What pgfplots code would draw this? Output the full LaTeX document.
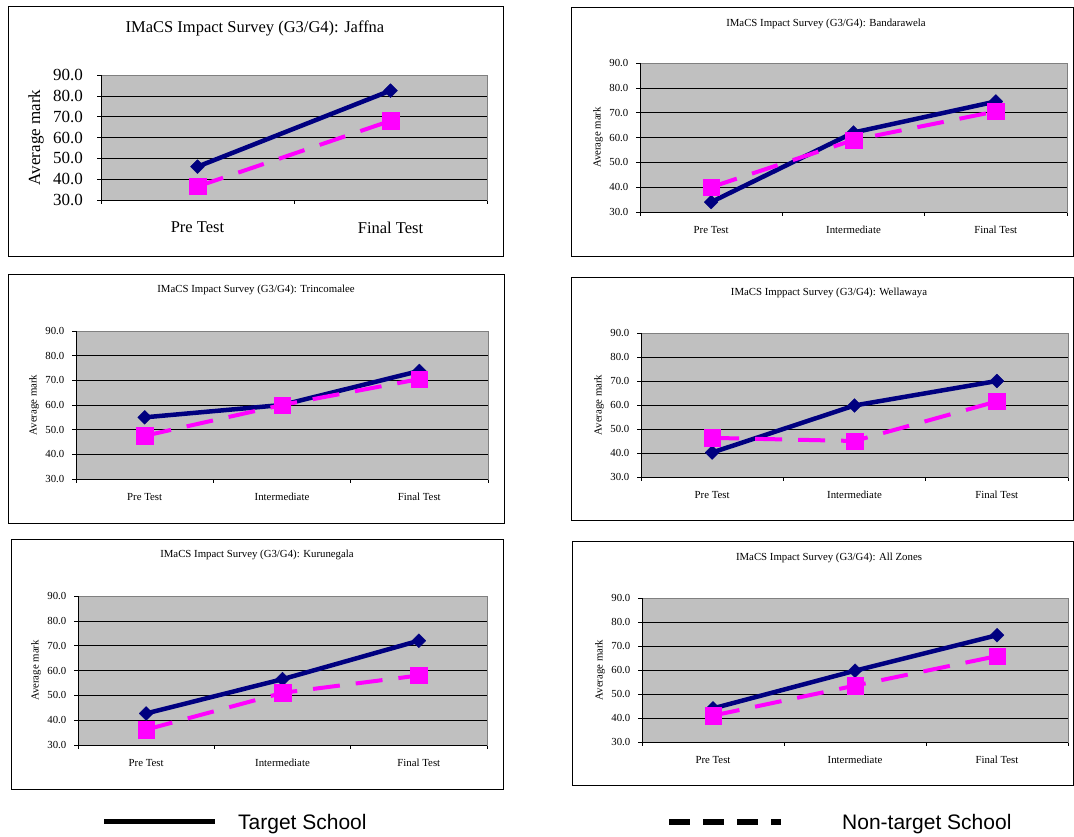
\documentclass[border=0pt]{standalone}
\usepackage{fontspec}
\setmainfont{Liberation Serif}
\newfontfamily\legendfont{Liberation Sans}
\usepackage{pgfplots}
\pgfplotsset{compat=1.18}

\definecolor{targetnavy}{HTML}{000080}
\definecolor{nontargetpink}{HTML}{FF00FF}
\definecolor{plotgray}{HTML}{C0C0C0}
\definecolor{bordergray}{HTML}{808080}

\newcommand\smallfont{\fontsize{10.8bp}{13bp}\selectfont}
\newcommand\bigfont{\fontsize{16.5bp}{19bp}\selectfont}

\pgfplotsset{
  zone/.style={
    scale only axis,
    anchor=south west,
    clip=false,
    ymin=30, ymax=90,
    ytick={30,40,...,90},
    xmin=0.5, xmax=3.5,
    xtick={0.5,1.5,2.5,3.5},
    xticklabels={{},{},{},{}},
    extra x ticks={1,2,3},
    extra x tick labels={Pre Test,Intermediate,Final Test},
    extra x tick style={major tick length=0pt},
    tick align=outside,
    tick pos=left,
    major tick length=4bp,
    tick style={black, line width=0.6bp},
    extra y ticks={40,50,60,70,80},
    extra y tick labels={},
    extra y tick style={grid=major, major tick length=0pt},
    grid style={black, line width=0.6bp},
    axis background/.style={fill=plotgray},
    axis line style={bordergray, line width=0.8bp},
    /pgf/number format/assume math mode=true,
    yticklabel style={/pgf/number format/fixed, /pgf/number format/fixed zerofill,
      /pgf/number format/precision=1, anchor=east, inner sep=0pt},
    xticklabel style={anchor=north, inner sep=0pt},
    ylabel={Average mark},
    after end axis/.code={
      \draw[black, line width=0.8bp] (rel axis cs:0,1) -- (rel axis cs:0,0) -- (rel axis cs:1,0);
    },
  },
  small zone/.style={
    zone,
    tick label style={font=\smallfont},
    yticklabel style={xshift=-7.5bp},
    xticklabel style={yshift=-14bp},
    every axis y label/.style={at={(axis description cs:0,0.5)}, xshift=-42bp,
      rotate=90, anchor=center, font=\smallfont},
  },
  target/.style={targetnavy, line width=4.5bp, line join=round,
    mark=square*, mark size=4.9bp,
    mark options={rotate=45, solid, fill=targetnavy, draw=targetnavy, line width=0.4bp}},
  nontarget/.style={nontargetpink, line width=4bp, dash pattern=on 27bp off 16bp,
    mark=square*, mark size=8.2bp,
    mark options={solid, fill=nontargetpink, draw=nontargetpink, line width=0.4bp}},
}

\begin{document}
\begin{tikzpicture}
\useasboundingbox (0,0) rectangle (1074bp,837bp);

% chart frames
\draw[black, line width=0.8bp] (8bp,831bp) rectangle (503bp,581bp);
\draw[black, line width=0.8bp] (571bp,830bp) rectangle (1073bp,581bp);
\draw[black, line width=0.8bp] (8bp,563bp) rectangle (504bp,314bp);
\draw[black, line width=0.8bp] (571bp,560bp) rectangle (1073bp,317bp);
\draw[black, line width=0.8bp] (11bp,298bp) rectangle (503bp,48bp);
\draw[black, line width=0.8bp] (572bp,296bp) rectangle (1073bp,52bp);

% Jaffna (two tests only)
\begin{axis}[zone, at={(101bp,637bp)}, width=386bp, height=125bp,
  xmax=2.5, xtick={0.5,1.5,2.5}, xticklabels={{},{},{}},
  extra x ticks={1,2}, extra x tick labels={Pre Test,Final Test},
  tick label style={font=\bigfont},
  yticklabel style={font=\fontsize{17bp}{20bp}\selectfont, xshift=-14bp},
  xticklabel style={yshift=-21.5bp},
  every axis y label/.style={at={(axis description cs:0,0.5)}, xshift=-65bp,
    rotate=90, anchor=center, font=\fontsize{17bp}{20bp}\selectfont}]
\addplot[target] coordinates {(1,46.0) (2,82.5)};
\addplot[nontarget] coordinates {(1,36.5) (2,68.0)};
\end{axis}

% Bandarawela
\begin{axis}[small zone, at={(640bp,625bp)}, width=427bp, height=149bp]
\addplot[target] coordinates {(1,34.0) (2,62.0) (3,74.5)};
\addplot[nontarget] coordinates {(1,40.0) (2,59.0) (3,70.5)};
\end{axis}

% Trincomalee
\begin{axis}[small zone, at={(76bp,358bp)}, width=412bp, height=148bp]
\addplot[target] coordinates {(1,55.0) (2,60.0) (3,73.8)};
\addplot[nontarget] coordinates {(1,47.5) (2,60.0) (3,70.5)};
\end{axis}

% Wellawaya
\begin{axis}[small zone, at={(641bp,360bp)}, width=427bp, height=144bp]
\addplot[target] coordinates {(1,40.2) (2,59.8) (3,70.0)};
\addplot[nontarget] coordinates {(1,46.3) (2,45.0) (3,61.5)};
\end{axis}

% Kurunegala
\begin{axis}[small zone, at={(78bp,92bp)}, width=409bp, height=149bp]
\addplot[target] coordinates {(1,42.7) (2,56.5) (3,72.0)};
\addplot[nontarget] coordinates {(1,36.2) (2,51.0) (3,58.0)};
\end{axis}

% All Zones
\begin{axis}[small zone, at={(642bp,95bp)}, width=426bp, height=144bp]
\addplot[target] coordinates {(1,44.0) (2,59.7) (3,74.5)};
\addplot[nontarget] coordinates {(1,41.0) (2,53.5) (3,65.8)};
\end{axis}

% chart titles
\node[font=\bigfont] at (255bp,809bp) {IMaCS Impact Survey (G3/G4): Jaffna};
\node[font=\smallfont] at (826bp,813.5bp) {IMaCS Impact Survey (G3/G4): Bandarawela};
\node[font=\smallfont] at (256bp,547.5bp) {IMaCS Impact Survey (G3/G4): Trincomalee};
\node[font=\smallfont] at (829bp,544.5bp) {IMaCS Imppact Survey (G3/G4): Wellawaya};
\node[font=\smallfont] at (257bp,282.5bp) {IMaCS Impact Survey (G3/G4): Kurunegala};
\node[font=\smallfont] at (829bp,279.5bp) {IMaCS Impact Survey (G3/G4): All Zones};

% shared key
\draw[black, line width=5bp] (104bp,15bp) -- (215bp,15bp);
\node[font=\legendfont\fontsize{21bp}{25bp}\selectfont, anchor=west, inner sep=0pt] at (238bp,13bp) {Target School};
\draw[black, line width=6bp, dash pattern=on 21bp off 13bp] (669bp,15bp) -- (781bp,15bp);
\node[font=\legendfont\fontsize{21bp}{25bp}\selectfont, anchor=west, inner sep=0pt] at (842bp,13bp) {Non-target School};
\end{tikzpicture}
\end{document}
